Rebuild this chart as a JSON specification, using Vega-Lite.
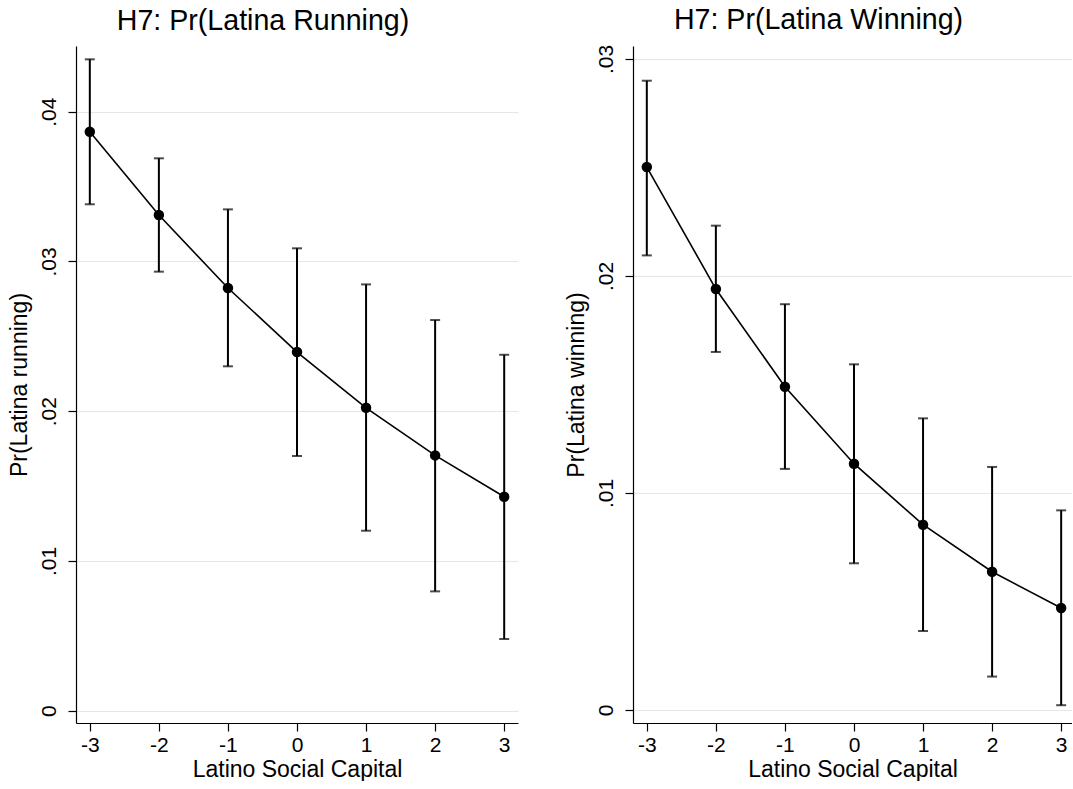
{
  "$schema": "https://vega.github.io/schema/vega-lite/v6.json",
  "background": "white",
  "padding": {"left": 8, "top": 5, "right": 0, "bottom": 0},
  "spacing": 47,
  "datasets": {
    "running": [
      {"x": -3, "y": 0.03866, "lo": 0.03382, "hi": 0.0435},
      {"x": -2, "y": 0.0331, "lo": 0.02932, "hi": 0.03689},
      {"x": -1, "y": 0.02823, "lo": 0.023, "hi": 0.03348},
      {"x": 0, "y": 0.02395, "lo": 0.01701, "hi": 0.03088},
      {"x": 1, "y": 0.02023, "lo": 0.01202, "hi": 0.02847},
      {"x": 2, "y": 0.01705, "lo": 0.00797, "hi": 0.02609},
      {"x": 3, "y": 0.01429, "lo": 0.00479, "hi": 0.02377}
    ],
    "winning": [
      {"x": -3, "y": 0.02502, "lo": 0.02095, "hi": 0.0290},
      {"x": -2, "y": 0.0194, "lo": 0.0165, "hi": 0.02232},
      {"x": -1, "y": 0.0149, "lo": 0.01111, "hi": 0.0187},
      {"x": 0, "y": 0.01135, "lo": 0.00676, "hi": 0.01593},
      {"x": 1, "y": 0.00854, "lo": 0.00364, "hi": 0.01344},
      {"x": 2, "y": 0.00637, "lo": 0.00154, "hi": 0.0112},
      {"x": 3, "y": 0.0047, "lo": 0.00022, "hi": 0.0092}
    ]
  },
  "config": {
    "view": {"stroke": null},
    "font": "Liberation Sans",
    "axis": {
      "domainColor": "#000", "domainWidth": 1.2, "tickColor": "#000", "tickWidth": 1.2, "tickSize": 8,
      "labelFont": "Liberation Sans", "labelFontSize": 21, "labelColor": "#000",
      "titleFont": "Liberation Sans", "titleFontSize": 23, "titleFontWeight": "normal", "titleColor": "#000",
      "gridColor": "#e6e6e6", "gridWidth": 1.2
    },
    "axisX": {"grid": false, "labelPadding": 3, "titlePadding": 3, "labelExpr": "'' + datum.value"},
    "axisY": {"grid": true, "labelAngle": -90, "labelAlign": "center", "labelBaseline": "bottom", "labelPadding": 9, "titlePadding": 7},
    "title": {"fontSize": 28.6, "fontWeight": "normal", "font": "Liberation Sans", "color": "#000", "anchor": "middle", "frame": "bounds", "offset": 10}
  },
  "hconcat": [
    {
      "width": 442, "height": 677,
      "title": {"text": "H7: Pr(Latina Running)"},
      "data": {"name": "running"},
      "encoding": {
        "x": {"field": "x", "type": "quantitative", "scale": {"domain": [-3.2, 3.2], "nice": false, "zero": false}, "axis": {"values": [-3, -2, -1, 0, 1, 2, 3], "title": "Latino Social Capital"}}
      },
      "layer": [
        {"mark": {"type": "rule", "strokeWidth": 2, "color": "#000"},
         "encoding": {"y": {"field": "lo", "type": "quantitative", "scale": {"domain": [-0.00082, 0.04439], "nice": false, "zero": false}, "axis": {"values": [0, 0.01, 0.02, 0.03, 0.04], "title": "Pr(Latina running)", "labelExpr": "datum.value == 0 ? '0' : substring(format(datum.value, '.2f'), 1)"}}, "y2": {"field": "hi"}}},
        {"mark": {"type": "tick", "orient": "horizontal", "size": 10, "thickness": 2, "color": "#000"},
         "encoding": {"y": {"field": "lo", "type": "quantitative", "scale": {"domain": [-0.00082, 0.04439], "nice": false, "zero": false}, "axis": {"values": [0, 0.01, 0.02, 0.03, 0.04], "title": "Pr(Latina running)", "labelExpr": "datum.value == 0 ? '0' : substring(format(datum.value, '.2f'), 1)"}}}},
        {"mark": {"type": "tick", "orient": "horizontal", "size": 10, "thickness": 2, "color": "#000"},
         "encoding": {"y": {"field": "hi", "type": "quantitative", "scale": {"domain": [-0.00082, 0.04439], "nice": false, "zero": false}, "axis": {"values": [0, 0.01, 0.02, 0.03, 0.04], "title": "Pr(Latina running)", "labelExpr": "datum.value == 0 ? '0' : substring(format(datum.value, '.2f'), 1)"}}}},
        {"mark": {"type": "line", "strokeWidth": 1.6, "color": "#000"},
         "encoding": {"y": {"field": "y", "type": "quantitative", "scale": {"domain": [-0.00082, 0.04439], "nice": false, "zero": false}, "axis": {"values": [0, 0.01, 0.02, 0.03, 0.04], "title": "Pr(Latina running)", "labelExpr": "datum.value == 0 ? '0' : substring(format(datum.value, '.2f'), 1)"}}}},
        {"mark": {"type": "point", "filled": true, "size": 110, "opacity": 1, "color": "#000"},
         "encoding": {"y": {"field": "y", "type": "quantitative", "scale": {"domain": [-0.00082, 0.04439], "nice": false, "zero": false}, "axis": {"values": [0, 0.01, 0.02, 0.03, 0.04], "title": "Pr(Latina running)", "labelExpr": "datum.value == 0 ? '0' : substring(format(datum.value, '.2f'), 1)"}}}}
      ]
    },
    {
      "width": 439, "height": 677,
      "title": {"text": "H7: Pr(Latina Winning)"},
      "data": {"name": "winning"},
      "encoding": {
        "x": {"field": "x", "type": "quantitative", "scale": {"domain": [-3.2, 3.157], "nice": false, "zero": false}, "axis": {"values": [-3, -2, -1, 0, 1, 2, 3], "title": "Latino Social Capital"}}
      },
      "layer": [
        {"mark": {"type": "rule", "strokeWidth": 2, "color": "#000"},
         "encoding": {"y": {"field": "lo", "type": "quantitative", "scale": {"domain": [-0.0006, 0.0306], "nice": false, "zero": false}, "axis": {"values": [0, 0.01, 0.02, 0.03], "title": "Pr(Latina winning)", "labelExpr": "datum.value == 0 ? '0' : substring(format(datum.value, '.2f'), 1)"}}, "y2": {"field": "hi"}}},
        {"mark": {"type": "tick", "orient": "horizontal", "size": 10, "thickness": 2, "color": "#000"},
         "encoding": {"y": {"field": "lo", "type": "quantitative", "scale": {"domain": [-0.0006, 0.0306], "nice": false, "zero": false}, "axis": {"values": [0, 0.01, 0.02, 0.03], "title": "Pr(Latina winning)", "labelExpr": "datum.value == 0 ? '0' : substring(format(datum.value, '.2f'), 1)"}}}},
        {"mark": {"type": "tick", "orient": "horizontal", "size": 10, "thickness": 2, "color": "#000"},
         "encoding": {"y": {"field": "hi", "type": "quantitative", "scale": {"domain": [-0.0006, 0.0306], "nice": false, "zero": false}, "axis": {"values": [0, 0.01, 0.02, 0.03], "title": "Pr(Latina winning)", "labelExpr": "datum.value == 0 ? '0' : substring(format(datum.value, '.2f'), 1)"}}}},
        {"mark": {"type": "line", "strokeWidth": 1.6, "color": "#000"},
         "encoding": {"y": {"field": "y", "type": "quantitative", "scale": {"domain": [-0.0006, 0.0306], "nice": false, "zero": false}, "axis": {"values": [0, 0.01, 0.02, 0.03], "title": "Pr(Latina winning)", "labelExpr": "datum.value == 0 ? '0' : substring(format(datum.value, '.2f'), 1)"}}}},
        {"mark": {"type": "point", "filled": true, "size": 110, "opacity": 1, "color": "#000"},
         "encoding": {"y": {"field": "y", "type": "quantitative", "scale": {"domain": [-0.0006, 0.0306], "nice": false, "zero": false}, "axis": {"values": [0, 0.01, 0.02, 0.03], "title": "Pr(Latina winning)", "labelExpr": "datum.value == 0 ? '0' : substring(format(datum.value, '.2f'), 1)"}}}}
      ]
    }
  ]
}
